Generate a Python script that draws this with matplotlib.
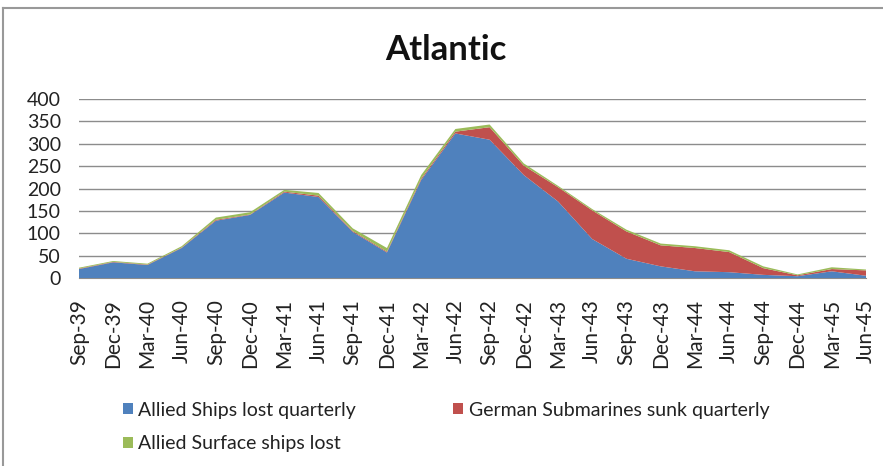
import numpy as np
import matplotlib
matplotlib.use("Agg")
import matplotlib.pyplot as plt
from matplotlib.lines import Line2D
from matplotlib.patches import Patch

plt.rcParams["font.family"] = ["Lato", "DejaVu Sans"]

# quarterly data
quarters = ["Sep-39", "Dec-39", "Mar-40", "Jun-40", "Sep-40", "Dec-40",
            "Mar-41", "Jun-41", "Sep-41", "Dec-41", "Mar-42", "Jun-42",
            "Sep-42", "Dec-42", "Mar-43", "Jun-43", "Sep-43", "Dec-43",
            "Mar-44", "Jun-44", "Sep-44", "Dec-44", "Mar-45", "Jun-45"]
allied_ships = [20, 35, 29, 67, 128, 141, 191, 181, 103, 57, 219, 323,
                309, 230, 171, 87, 43, 26, 15, 13, 7, 4, 15, 5]
uboats_sunk = [1, 1, 1, 1, 2, 1, 2, 3, 2, 2, 3, 4,
               28, 21, 32, 64, 61, 47, 52, 45, 15, 2, 5, 12]
surface_lost = [2, 2, 2, 3, 5, 5, 4, 6, 6, 8, 8, 6,
                6, 5, 3, 3, 4, 4, 4, 4, 4, 2, 4, 2]
yticks = [0, 50, 100, 150, 200, 250, 300, 350, 400]

colors = ["#4F81BD", "#C0504D", "#9BBB59"]
labels = ["Allied Ships lost quarterly", "German Submarines sunk quarterly",
          "Allied Surface ships lost"]

fig = plt.figure(figsize=(8.83, 4.66), dpi=100)
ax = fig.add_axes([79 / 883, 188 / 466, 787 / 883, 179 / 466])

x = np.arange(len(quarters))
ax.stackplot(x, allied_ships, uboats_sunk, surface_lost, colors=colors, zorder=3)

ax.set_xlim(0, len(quarters) - 1)
ax.set_ylim(0, 400)
ax.set_yticks(yticks)
ax.set_xticks(x)
ax.set_xticklabels(quarters, rotation=90)
ax.tick_params(axis="both", length=0, colors="#222222")
ax.tick_params(axis="x", pad=15, labelsize=15)
ax.tick_params(axis="y", pad=13, labelsize=14)
ax.yaxis.grid(True, color="#8c8c8c", lw=1)
ax.set_axisbelow(True)
for s in ["top", "right", "left"]:
    ax.spines[s].set_visible(False)
ax.spines["bottom"].set_color("#8c8c8c")

fig.text(446 / 883, 416 / 466, "Atlantic", ha="center", va="center",
         fontsize=25, fontweight="bold", color="#111111")

# legend is filled column by column, so order blue, green, red
order = [0, 2, 1]
handles = [Patch(facecolor=colors[i], edgecolor="none") for i in order]
fig.legend(handles, [labels[i] for i in order], ncol=2, loc="upper left",
           bbox_to_anchor=(113 / 883, 1 - 392 / 466), frameon=False,
           borderpad=0, fontsize=14, handlelength=0.52, handleheight=0.52,
           handletextpad=0.28, columnspacing=5.0, labelspacing=0.85,
           labelcolor="#222222")

# chart area border (only left and top fall inside the picture)
fig.add_artist(Line2D([3 / 883, 3 / 883], [0, 1 - 8 / 466], color="#999999", lw=1.5))
fig.add_artist(Line2D([3 / 883, 1], [1 - 8 / 466, 1 - 8 / 466], color="#999999", lw=1.5))

fig.savefig("out.png", dpi=100)
